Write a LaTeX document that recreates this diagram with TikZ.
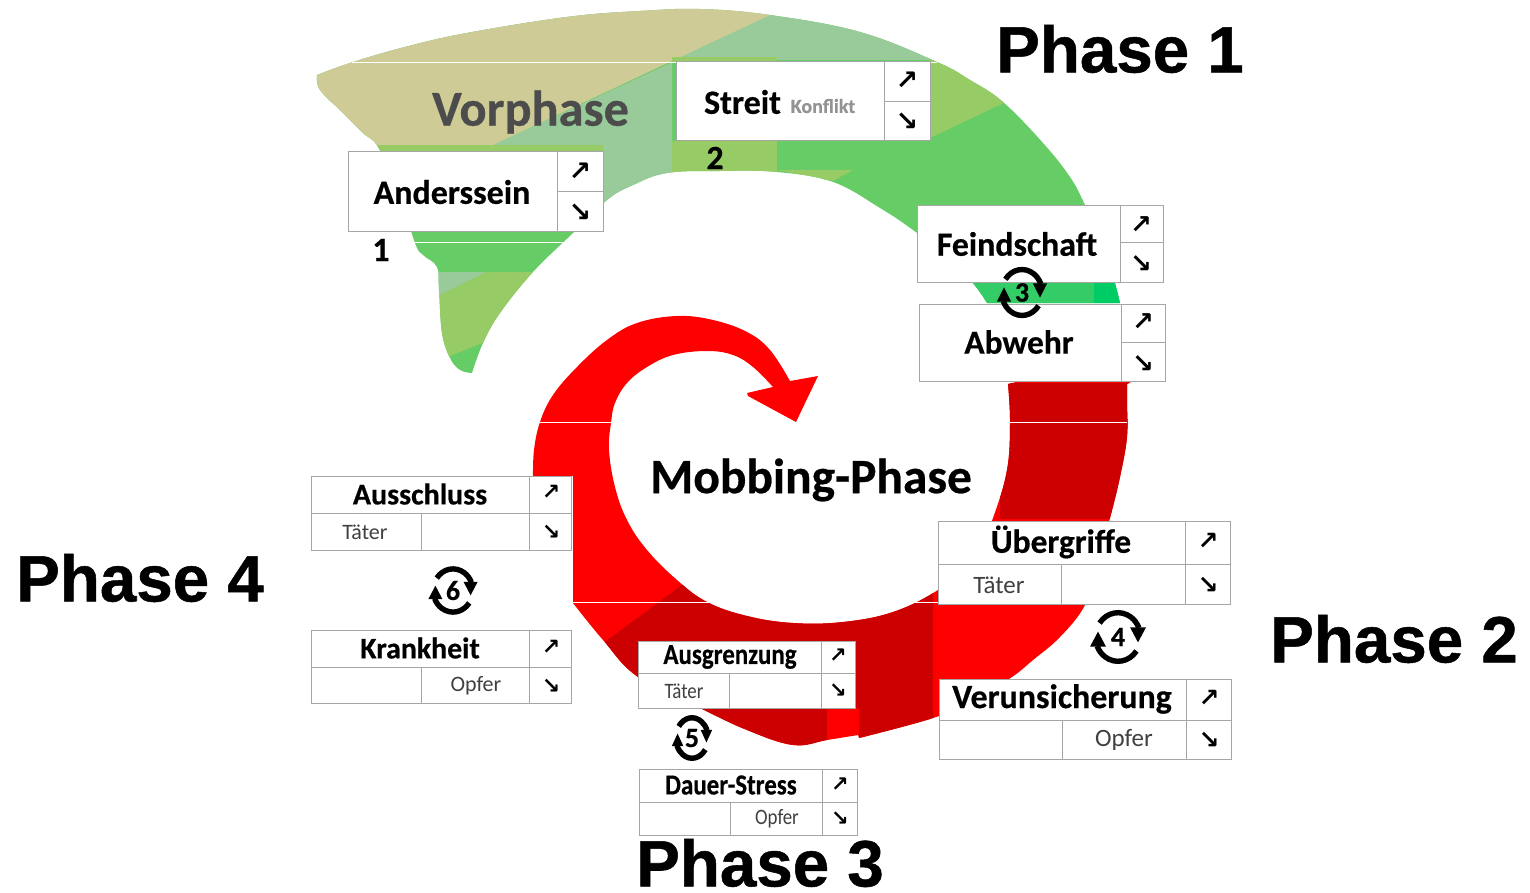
\documentclass[tikz,border=0pt]{standalone}
\usepackage{fontspec}
\setmainfont[BoldFeatures={FakeBold=0.5}]{Carlito}
\newfontfamily\arialb[BoldFont={Liberation Sans Bold},BoldFeatures={FakeBold=0.8}]{Liberation Sans}
\newfontfamily\djv[BoldFont={DejaVu Sans Bold}]{DejaVu Sans}
\definecolor{khaki}{HTML}{CFCB96}
\definecolor{sage}{HTML}{98CB99}
\definecolor{olive}{HTML}{97CB66}
\definecolor{grn}{HTML}{66CC66}
\definecolor{grnb}{HTML}{33CC66}
\definecolor{grnc}{HTML}{00CC66}
\definecolor{rbright}{HTML}{FF0000}
\definecolor{rdark}{HTML}{CC0000}
\definecolor{tline}{HTML}{A6A6A6}
\newcommand{\fs}[1]{\fontsize{#1}{#1}\selectfont}
\newcommand{\greenoutline}{
  plot[smooth,tension=0.65] coordinates {(317,75) (350,63) (405,47) (467,33) (567,17) (640,11) (700,9) (770,15) (860,32) (937,62) (970,80) (1003,102) (1043,143) (1070,177) (1085,205) (1105,250) (1115,283) (1120,303)}
  -- (987,303)
  -- plot[smooth,tension=0.65] coordinates {(987,303) (972,282) (945,255) (913,230) (880,208) (833,182) (777,172) (720,171) (667,173) (633,185) (607,200) (573,233) (533,272) (500,313) (483,343) (472,373)}
  -- plot[smooth,tension=0.65] coordinates {(472,373) (460,370) (450,358) (442,333) (439,290) (437,267) (423,255) (415,243) (398,190) (378,147) (363,133) (343,113) (320,90) (317,75)} -- cycle}
\newcommand{\redoutline}{
  (1020,381) -- (1133,381) -- (1127,384)
  -- plot[smooth,tension=0.65] coordinates {(1127,384) (1127,403) (1127,437) (1120,477) (1110,518) (1097,565) (1085,605) (1060,637) (1033,660) (1012,677) (975,700) (933,718) (859,738)}
  -- (858,735)
  -- plot[smooth,tension=0.65] coordinates {(858,735) (827,740) (793,745) (747,730) (700,708) (638,677) (603,640) (573,603)}
  -- (573,476) -- (533,476)
  -- plot[smooth,tension=0.65] coordinates {(533,476) (534,450) (540,422) (553,395) (577,367) (607,340) (637,323) (677,316) (713,320) (747,332) (770,350) (790,381)}
  -- (818,376) -- (796,422) -- (748,396) -- (747,393) -- (773,387)
  -- plot[smooth,tension=0.65] coordinates {(773,387) (753,367) (733,355) (707,351) (673,355) (647,367) (627,383) (615,403) (611,423) (609,450) (615,487) (627,520) (647,550) (677,580) (707,602) (747,616) (793,623) (843,622) (893,612) (938,590) (975,560) (993,518) (1007,470) (1010,423) (1008,384)}
  -- cycle}
\newcommand{\tbl}[8]{% name x1 y1 x2 y2 xv yh xsplit
  \draw[tline,line width=1pt,fill=white] (#2,#3) rectangle (#4,#5);
  \draw[tline,line width=1pt] (#6,#3) -- (#6,#5);
  \ifx\relax#8\relax
    \draw[tline,line width=1pt] (#6,#7) -- (#4,#7);
  \else
    \draw[tline,line width=1pt] (#2,#7) -- (#4,#7);
    \draw[tline,line width=1pt] (#8,#7) -- (#8,#5);
  \fi
}
\newcommand{\arr}[4]{% name x y size
  \node[arrowtxt] (#1u) at (#2,#3) {\fs{#4}↗};
}
\newcommand{\ard}[4]{\node[arrowtxt] (#1d) at (#2,#3) {\fs{#4}↘};}
\newcommand{\cyc}[6]{% name x y number xs ys
  \begin{scope}[shift={(#2,#3)},xscale=#5,yscale=#6]
    \draw[black,line width=5.4pt] (-145:22.5) arc[start angle=-145,end angle=-22,radius=22.5];
    \draw[black,line width=5.4pt] (35:22.5) arc[start angle=35,end angle=158,radius=22.5];
    \fill[black] (12,-9) -- (28,-9) -- (20,5) -- cycle;
    \fill[black] (-12,9) -- (-28,9) -- (-20,-5) -- cycle;
  \end{scope}
  \node[txt,font=\bfseries\fs{28}] (#1) at (#2,#3) {#4};
}
\newcommand{\cond}[1]{\scalebox{0.86}[1]{#1}}
\tikzset{
  txt/.style={inner sep=0pt,outer sep=0pt,text=black},
  arrowtxt/.style={inner sep=0pt,outer sep=0pt,text=black,font=\djv\bfseries},
  tb/.style={txt,font=\bfseries},
}
\begin{document}
\begin{tikzpicture}[x=1pt,y=-1pt]
\useasboundingbox (0,0) rectangle (1530,893);
% green band
\begin{scope}
  \clip \greenoutline;
  \fill[grn] (300,0) rectangle (1200,385);
  \fill[sage] (770,15) -- (1000,15) -- (1000,60) -- (300,60) -- (300,0) -- cycle;
  \fill[sage] (677,60) -- (672,60) -- (672,172) -- (603,230) -- (400,230) -- (400,145) -- (493,145) -- cycle;
  \fill[khaki] (300,0) -- (820,-8) -- (770,15) -- (493,145) -- (300,145) -- cycle;
  \fill[olive] (370,145) rectangle (603,153);
  \fill[olive] (672,57) rectangle (777,63);
  \fill[olive] (672,141) rectangle (777,180);
  \fill[olive] (930,55) -- (1010,100) -- (930,138) -- cycle;
  \fill[olive] (777,170) -- (853,170) -- (833,181) -- cycle;
  \fill[sage] (430,272) -- (487,272) -- (440,295) -- cycle;
  \fill[olive] (487,272) -- (535,272) -- (490,340) -- (445,358) -- (430,300) -- (440,295) -- cycle;
  \fill[grnb] (960,282) rectangle (1094,304);
  \fill[grnc] (1094,282) rectangle (1130,304);
\end{scope}
\draw[white,line width=0.6pt] (352,62) -- (937,62);
\draw[white,line width=0.6pt] (412,242) -- (568,242);
% red spiral
\begin{scope}
  \clip \redoutline;
  \fill[rbright] (500,300) rectangle (1150,770);
  \fill[rdark] (1000,383) rectangle (1130,519);
  \fill[rdark] (682,585) -- (590,653) -- (590,720) -- (827,770) -- (827,708) -- (859,708) -- (859,770) -- (933,770) -- (933,570) -- cycle;
\end{scope}
\draw[white,line width=0.6pt] (532,422.5) -- (612,422.5);
\draw[white,line width=0.6pt] (1009,422.5) -- (1127,422.5);
\draw[white,line width=0.6pt] (564,602.5) -- (938,602.5);
% tables
\tbl{a}{348}{152}{603}{232}{557}{192}{}
\tbl{b}{676}{62}{930}{141}{884}{102}{}
\tbl{c}{917}{206}{1163}{282}{1120}{243}{}
\tbl{d}{919}{304}{1165}{381}{1121}{342}{}
\tbl{e}{311}{476}{571}{550}{529}{513}{421}
\tbl{f}{311}{630}{571}{703}{529}{667}{421}
\tbl{g}{938}{521}{1230}{604}{1185}{564}{1061}
\tbl{h}{939}{679}{1231}{759}{1186}{720}{1062}
\tbl{i}{638}{641}{855}{708}{821}{673}{729}
\tbl{j}{639}{769}{857}{835}{822}{802}{730}
% table arrows
\arr{a}{580}{172}{27}\ard{a}{580}{213}{27}
\arr{b}{907}{81}{27}\ard{b}{907}{122}{27}
\arr{c}{1141}{225}{26}\ard{c}{1141}{264}{26}
\arr{d}{1143}{322}{26}\ard{d}{1143}{364}{26}
\arr{e}{551}{492}{22}\ard{e}{551}{532}{22}
\arr{f}{551}{647}{22}\ard{f}{551}{686}{22}
\arr{g}{1208}{541}{25}\ard{g}{1208}{585}{25}
\arr{h}{1209}{698}{25}\ard{h}{1209}{740}{25}
\arr{i}{838}{656}{21}\ard{i}{838}{691}{21}
\arr{j}{840}{785}{21}\ard{j}{840}{819}{21}
% table labels
\node[tb,font=\bfseries\fs{34}] (tAnders) at (452,192) {Anderssein};
\node[tb,font=\bfseries\fs{34}] (tStreit) at (742.5,102) {Streit};
\node[txt,text=gray!85,font=\bfseries\fs{20}] (tKonflikt) at (823,106) {Konflikt};
\node[tb,font=\bfseries\fs{33.8}] (tFeind) at (1017,244) {Feindschaft};
\node[tb,font=\bfseries\fs{33.4}] (tAbwehr) at (1019,342) {Abwehr};
\node[tb,font=\bfseries\fs{30}] (tAussch) at (420,494) {Ausschluss};
\node[txt,font=\fs{22},text=black!75] (tTa) at (365,532) {Täter};
\node[tb,font=\bfseries\fs{29.8}] (tKrank) at (420,648) {Krankheit};
\node[txt,font=\fs{22},text=black!75] (tOa) at (476,686) {Opfer};
\node[tb,font=\bfseries\fs{33.4}] (tUeber) at (1061,542) {Übergriffe};
\node[txt,font=\fs{25},text=black!75] (tTb) at (999,585) {Täter};
\node[tb,font=\bfseries\fs{33.9}] (tVer) at (1062,699) {Verunsicherung};
\node[txt,font=\fs{25},text=black!75] (tOb) at (1124,740) {Opfer};
\node[tb,font=\bfseries\fs{29}] (tAusg) at (730,657) {\cond{Ausgrenzung}};
\node[txt,font=\fs{22},text=black!75] (tTc) at (684,691) {\cond{Täter}};
\node[tb,font=\bfseries\fs{29}] (tDauer) at (731,785) {\cond{Dauer-Stress}};
\node[txt,font=\fs{22},text=black!75] (tOc) at (777,819) {\cond{Opfer}};
% numbers
\node[tb,font=\bfseries\fs{34}] (n1) at (381,250) {1};
\node[tb,font=\bfseries\fs{34}] (n2) at (715,158) {2};
\cyc{n3}{1022}{292.5}{3}{0.9}{1.02}
\cyc{n4}{1118}{637}{4}{1}{1.08}
\cyc{n5}{692}{738}{5}{0.72}{0.9}
\cyc{n6}{453}{590.5}{6}{0.88}{0.96}
% headings
\node[txt,font=\bfseries\fs{50.4},text=black!70] (tVor) at (530.5,112) {Vorphase};
\node[tb,font=\bfseries\fs{49.4}] (tMob) at (811,480) {Mobbing-Phase};
\node[txt,font=\arialb\bfseries\fs{65.5}] (p1) at (1120,49) {Phase 1};
\node[txt,font=\arialb\bfseries\fs{65.5}] (p2) at (1394,639) {Phase 2};
\node[txt,font=\arialb\bfseries\fs{65.5}] (p3) at (760,863) {Phase 3};
\node[txt,font=\arialb\bfseries\fs{65.5}] (p4) at (140,578) {Phase 4};
\end{tikzpicture}
\end{document}
